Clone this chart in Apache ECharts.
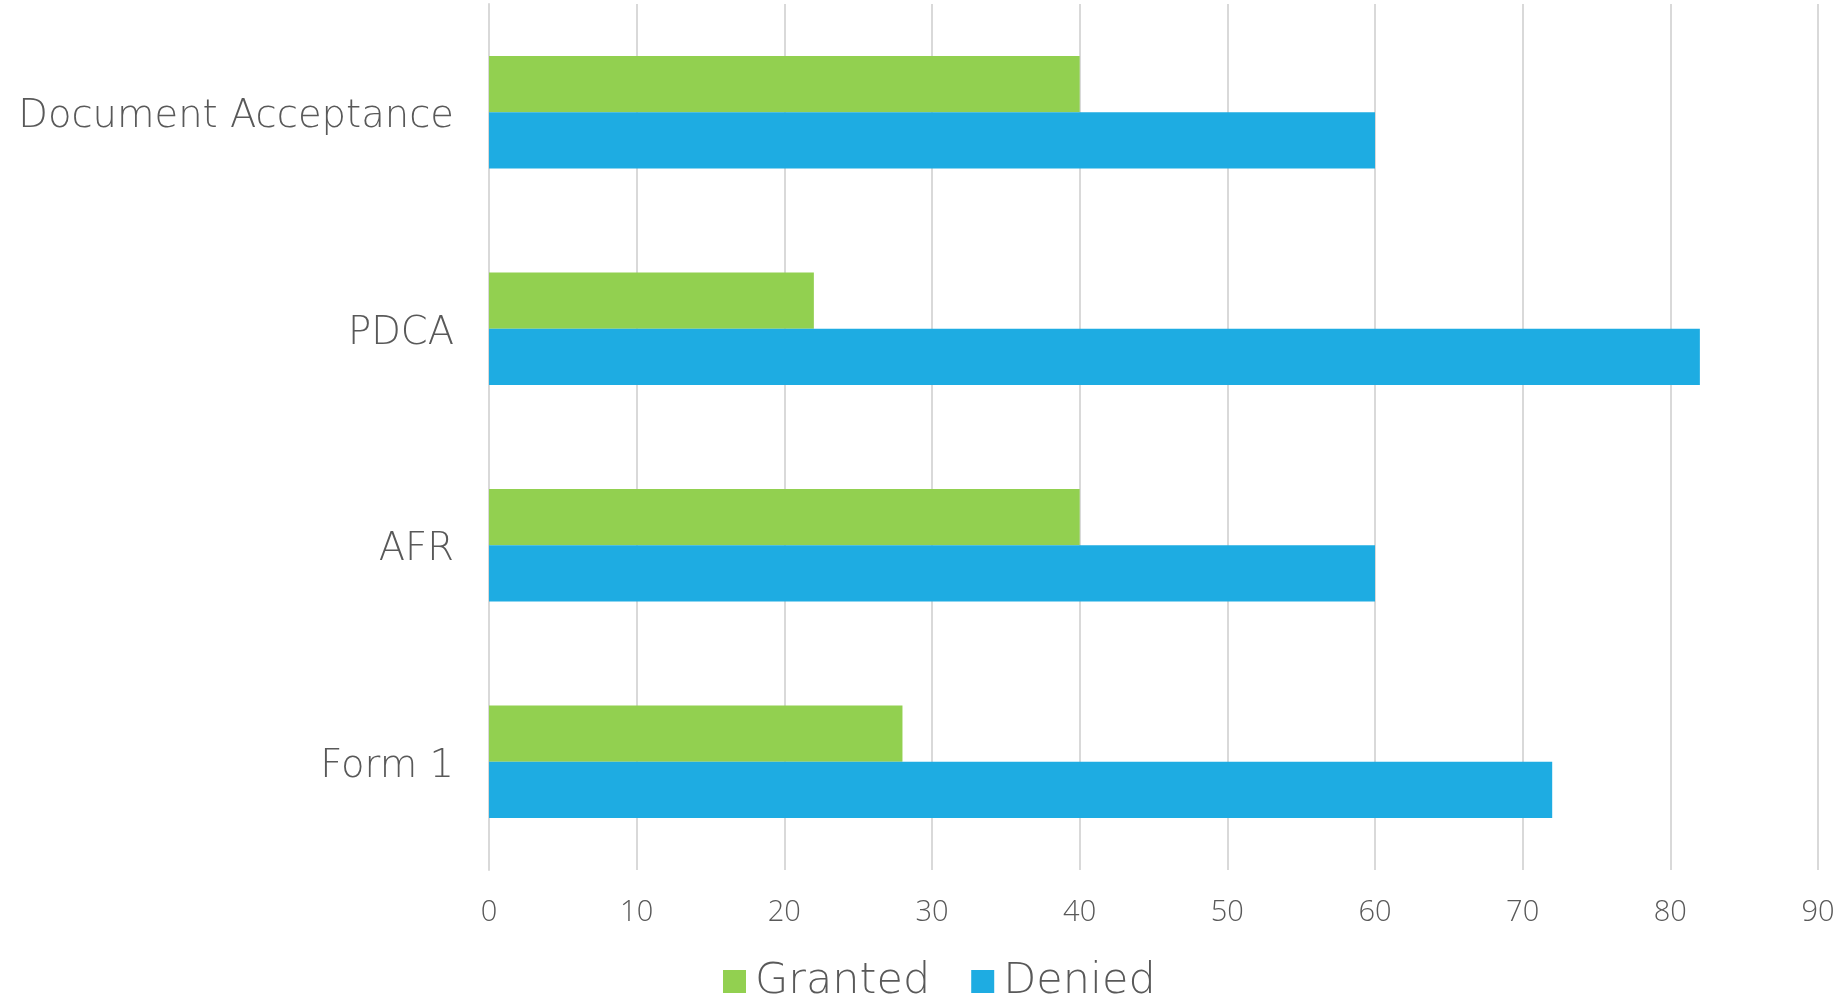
<!DOCTYPE html>
<html>
<head>
    <meta charset="utf-8">
    <title>Granted vs Denied</title>
    <script src="https://cdn.jsdelivr.net/npm/echarts@6/dist/echarts.min.js"></script>
    <style>
        html, body { margin: 0; padding: 0; background: #fff; }
    </style>
</head>
<body>
    <div id="main" style="width: 1844px;height:1000px;"></div>
    <script type="text/javascript">
        // data
        var categories = ['Document Acceptance', 'PDCA', 'AFR', 'Form 1'];
        var granted = [40, 22, 40, 28];
        var denied = [60, 82, 60, 72];

        var textColor = '#595959';
        var tickFont = "'Open Sans', sans-serif";
        var labelFont = "'DejaVu Sans', sans-serif";

        var myChart = echarts.init(document.getElementById('main'));

        myChart.setOption({
            animation: false,
            grid: {
                left: 489,
                right: 26,
                top: 4,
                bottom: 130
            },
            legend: {
                data: ['Granted', 'Denied'],
                left: 718,
                bottom: -8,
                itemWidth: 23,
                itemHeight: 23,
                itemGap: 41,
                icon: 'rect',
                textStyle: {
                    color: textColor,
                    fontFamily: labelFont,
                    fontWeight: 200,
                    fontSize: 43,
                    padding: [0, 0, 0, 4]
                }
            },
            xAxis: {
                type: 'value',
                min: 0,
                max: 90,
                interval: 10,
                axisLine: { show: false },
                axisTick: { show: false },
                splitLine: { lineStyle: { color: '#d9d9d9', width: 2 } },
                axisLabel: {
                    color: textColor,
                    fontFamily: tickFont,
                    fontWeight: 300,
                    fontSize: 29,
                    margin: 28
                }
            },
            yAxis: {
                type: 'category',
                data: categories,
                inverse: true,
                axisLine: { show: true, lineStyle: { color: '#d9d9d9', width: 2 } },
                axisTick: { show: false },
                axisLabel: {
                    margin: 35,
                    formatter: '{a|{value}}',
                    rich: {
                        a: {
                            color: textColor,
                            fontFamily: labelFont,
                            fontWeight: 200,
                            fontSize: 38.5,
                            padding: [10, 0, 0, 0]
                        }
                    }
                }
            },
            series: [
                {
                    name: 'Granted',
                    type: 'bar',
                    data: granted,
                    barGap: '0%',
                    barCategoryGap: '48%',
                    itemStyle: { color: '#92d050' }
                },
                {
                    name: 'Denied',
                    type: 'bar',
                    data: denied,
                    itemStyle: { color: '#1eace2' }
                }
            ]
        });
    </script>
</body>
</html>
